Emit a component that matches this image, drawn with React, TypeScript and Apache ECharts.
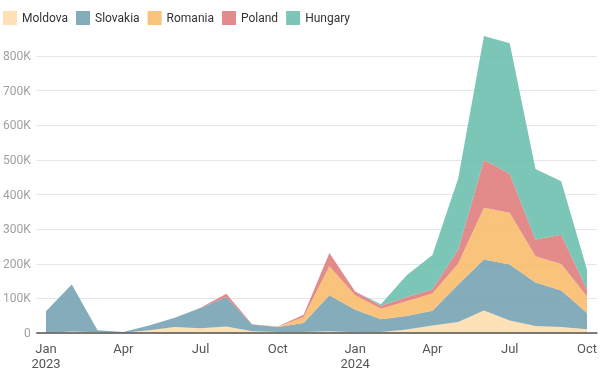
import React, { useEffect, useRef } from "react";
import * as echarts from "echarts";

const months = [
  "2023-01", "2023-02", "2023-03", "2023-04", "2023-05", "2023-06", "2023-07", "2023-08", "2023-09", "2023-10", "2023-11", "2023-12",
  "2024-01", "2024-02", "2024-03", "2024-04", "2024-05", "2024-06", "2024-07", "2024-08", "2024-09", "2024-10",
];
const tickLabels = ["Jan\n2023", "Apr", "Jul", "Oct", "Jan\n2024", "Apr", "Jul", "Oct"];

const moldova = [1000, 4000, 2000, 1000, 8000, 17000, 14000, 19000, 5000, 3000, 3000, 5000, 2000, 3000, 10000, 22000, 32000, 65000, 36000, 20000, 17000, 11000];
const slovakia = [62000, 136000, 6000, 2000, 14000, 27000, 58000, 85000, 19000, 14000, 26000, 104000, 65000, 37000, 39000, 42000, 108000, 147000, 162000, 126000, 106000, 47000];
const romania = [0, 0, 0, 0, 0, 0, 0, 0, 0, 1000, 17000, 84000, 42000, 30000, 43000, 50000, 61000, 150000, 149000, 76000, 76000, 48000];
const poland = [0, 0, 0, 0, 0, 0, 1000, 9000, 1000, 1000, 7000, 38000, 11000, 9000, 12000, 12000, 40000, 138000, 113000, 48000, 85000, 19000];
const hungary = [0, 0, 0, 0, 0, 0, 0, 0, 0, 0, 0, 0, 0, 4000, 63000, 99000, 205000, 358000, 377000, 204000, 154000, 58000];

const seriesDefs = [
  { name: "Moldova", data: moldova, legend: "#fee1b6", area: "#fedca9" },
  { name: "Slovakia", data: slovakia, legend: "#85acba", area: "#6f9dae" },
  { name: "Romania", data: romania, legend: "#f9c37b", area: "#f8b864" },
  { name: "Poland", data: poland, legend: "#e38a8a", area: "#de7575" },
  { name: "Hungary", data: hungary, legend: "#7cc6b8", area: "#65bcab" },
];

export default function App() {
  const ref = useRef<HTMLDivElement>(null);
  useEffect(() => {
    if (!ref.current) return;
    const chart = echarts.init(ref.current, null, { renderer: "svg" });
    const yBase = { type: "value", min: 0, max: 800000, interval: 100000 };
    chart.setOption({
      animation: false,
      textStyle: { fontFamily: "Roboto" },
      legend: {
        left: 3,
        top: 11,
        padding: 0,
        icon: "rect",
        itemWidth: 14,
        itemHeight: 14,
        itemGap: 8,
        textStyle: { fontSize: 12, color: "#333", fontFamily: "Roboto" },
        data: seriesDefs.map((s) => s.name),
      },
      grid: [
        { left: 36, right: 5, top: 56, bottom: 38, containLabel: false },
        { left: 46, right: 15, top: 56, bottom: 38, containLabel: false },
      ],
      xAxis: [
        {
          gridIndex: 0,
          type: "value",
          min: 0,
          max: 1,
          z: 10,
          splitLine: { show: false },
          axisTick: { show: false },
          axisLabel: { show: false },
          axisLine: { show: true, lineStyle: { color: "#555", width: 1.5 } },
        },
        {
          gridIndex: 1,
          type: "category",
          data: months,
          boundaryGap: false,
          axisLine: { show: false },
          axisTick: { show: false },
          splitLine: { show: false },
          axisLabel: {
            interval: 0,
            formatter: (_v: string, i: number) => (i % 3 === 0 ? tickLabels[i / 3] : ""),
            color: "#555",
            fontSize: 13,
            lineHeight: 15,
            margin: 8,
            fontFamily: "Roboto",
          },
        },
      ],
      yAxis: [
        {
          ...yBase,
          gridIndex: 0,
          axisLine: { show: false },
          axisTick: { show: false },
          splitLine: { lineStyle: { color: "#e6e6e6", width: 1 } },
          axisLabel: {
            formatter: (v: number) => (v === 0 ? "0" : v / 1000 + "K"),
            color: "#a0a0a0",
            fontSize: 12,
            margin: 6,
            fontFamily: "Roboto",
          },
        },
        {
          ...yBase,
          gridIndex: 1,
          show: false,
          splitLine: { show: false },
        },
      ],
      series: seriesDefs.map((s) => ({
        name: s.name,
        type: "line",
        xAxisIndex: 1,
        yAxisIndex: 1,
        stack: "total",
        clip: false,
        symbol: "none",
        showSymbol: false,
        color: s.legend,
        lineStyle: { width: 0, opacity: 0 },
        areaStyle: { color: s.area, opacity: 0.85 },
        data: s.data,
      })),
    });
    return () => chart.dispose();
  }, []);
  return <div ref={ref} style={{ position: "fixed", left: 0, top: 0, width: 602, height: 371 }} />;
}
